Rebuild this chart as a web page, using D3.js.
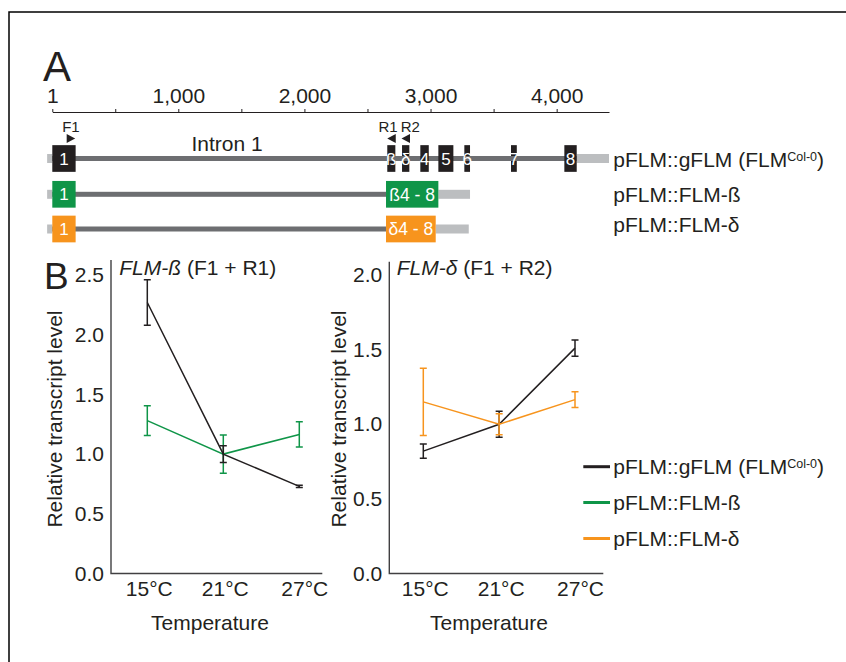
<!DOCTYPE html>
<html>
<head>
<meta charset="utf-8">
<script src="https://cdn.jsdelivr.net/npm/d3@7"></script>
<style>
  body { margin: 0; background: #fff; }
  svg text { font-family: 'Liberation Sans', Arial, sans-serif; fill: #231f20; }
</style>
</head>
<body>
<script>
// --- data ---
// genome scale (bp)
var scaleTicks = [1, 500, 1000, 1500, 2000, 2500, 3000, 3500, 4000];
var scaleEnd = 4415;

// gene model pFLM::gFLM
var exonNames = ["1", "ß", "δ", "4", "5", "6", "7", "8"];
var exonStarts = [1, 2657, 2774, 2919, 3062, 3268, 3638, 4061];
var exonEnds = [186, 2721, 2832, 2986, 3181, 3313, 3684, 4159];
var exonUnderLine = [false, true, true, false, false, true, true, false];
var utr5 = [-40, 1];
var utr3 = [4159, 4415];

// cDNA constructs
var constructNames = ["pFLM::FLM-ß", "pFLM::FLM-δ"];
var constructBlocks = ["ß4 - 8", "δ4 - 8"];
var constructCds = [[2647, 3062], [2647, 3041]];
var constructUtr3 = [[3062, 3313], [3041, 3303]];

// primers
var primerNames = ["F1", "R1", "R2"];
var primerPos = [115, 2724, 2837];
var primerDir = [1, -1, -1];

// qPCR
var temps = ["15°C", "21°C", "27°C"];
var betaTicks = [0, 0.5, 1.0, 1.5, 2.0, 2.5];
var deltaTicks = [0, 0.5, 1.0, 1.5, 2.0];
var betaGFLM = [2.27, 1.0, 0.73];
var betaGFLMErr = [0.19, 0.07, 0.01];
var betaFLMb = [1.28, 1.0, 1.165];
var betaFLMbErr = [0.125, 0.16, 0.105];
var deltaGFLM = [0.82, 1.0, 1.51];
var deltaGFLMErr = [0.048, 0.087, 0.055];
var deltaFLMd = [1.15, 1.0, 1.165];
var deltaFLMdErr = [0.225, 0.07, 0.053];

var legendNames = ["pFLM::gFLM (FLM", "pFLM::FLM-ß", "pFLM::FLM-δ"];

var BLACK = "#231f20", GREEN = "#0f9548", ORANGE = "#f7941d",
    INTRON = "#6d6e71", UTR = "#bcbec0";
var FS = "21px";

var svg = d3.select("body").append("svg")
    .attr("width", 846).attr("height", 662);

// frame
svg.append("path").attr("d", "M9,662V12H846")
    .attr("fill", "none").attr("stroke", "#000").attr("stroke-width", 1.5);

// panel letters
svg.append("text").attr("x", 43).attr("y", 81).style("font-size", "42px").text("A");
svg.append("text").attr("x", 44).attr("y", 289).style("font-size", "37px").text("B");

// ---------- panel A ----------
var gx = d3.scaleLinear().domain([1, scaleEnd]).range([52.3, 609]);

var ax = svg.append("g")
    .attr("transform", "translate(0,112)")
    .call(d3.axisTop(gx)
      .tickValues(scaleTicks)
      .tickFormat(function(d) { return (d === 1 || d % 1000 === 0) ? d3.format(",")(d) : ""; })
      .tickSize(3).tickSizeOuter(0).tickPadding(6));
ax.selectAll("path, line").attr("stroke", BLACK).attr("stroke-width", 1);
ax.selectAll("text").style("font-size", FS).attr("fill", BLACK);

var rowY = [158.5, 194.3, 229];
var boxH = 26.7, lineH = 5, utrH = 9;

function box(g, s, e, y, h, fill) {
  return g.append("rect")
    .attr("x", gx(s)).attr("y", y - h / 2)
    .attr("width", gx(e) - gx(s)).attr("height", h)
    .attr("fill", fill);
}
function boxLabel(g, s, e, y, label, size) {
  g.append("text")
    .attr("x", (gx(s) + gx(e)) / 2).attr("y", y)
    .attr("dy", "0.36em").attr("text-anchor", "middle")
    .style("font-size", size).style("fill", "#fff")
    .text(label);
}

// row 1: genomic
var r1 = svg.append("g");
box(r1, utr5[0], utr5[1], rowY[0], utrH, UTR);
box(r1, utr3[0], utr3[1], rowY[0], utrH, UTR);
exonNames.forEach(function(n, i) {
  if (exonUnderLine[i]) box(r1, exonStarts[i], exonEnds[i], rowY[0], boxH, BLACK);
});
box(r1, exonStarts[0], exonEnds[exonEnds.length - 1], rowY[0], lineH, INTRON);
exonNames.forEach(function(n, i) {
  if (!exonUnderLine[i]) box(r1, exonStarts[i], exonEnds[i], rowY[0], boxH, BLACK);
});
exonNames.forEach(function(n, i) {
  boxLabel(r1, exonStarts[i], exonEnds[i], rowY[0], n, "17px");
});
r1.append("text").attr("x", 227).attr("y", 151).attr("text-anchor", "middle")
  .style("font-size", FS).text("Intron 1");

// rows 2-3: constructs
var cColors = [GREEN, ORANGE];
constructNames.forEach(function(name, k) {
  var g = svg.append("g"), y = rowY[k + 1];
  box(g, utr5[0], utr5[1], y, utrH, UTR);
  box(g, constructUtr3[k][0], constructUtr3[k][1], y, utrH, UTR);
  box(g, exonStarts[0], constructCds[k][0], y, lineH, INTRON);
  box(g, exonStarts[0], exonEnds[0], y, boxH, cColors[k]);
  box(g, constructCds[k][0], constructCds[k][1], y, boxH, cColors[k]);
  boxLabel(g, exonStarts[0], exonEnds[0], y, "1", "17px");
  boxLabel(g, constructCds[k][0], constructCds[k][1], y, constructBlocks[k], "17.5px");
});

// construct names on the right
var nameBase = [166.7, 201.7, 231.7];
var t1 = svg.append("text").attr("x", 613.3).attr("y", nameBase[0]).style("font-size", FS);
t1.append("tspan").text(legendNames[0]);
t1.append("tspan").attr("dy", -6).style("font-size", "12.5px").text("Col-0");
t1.append("tspan").attr("dy", 6).text(")");
constructNames.forEach(function(n, k) {
  svg.append("text").attr("x", 613.3).attr("y", nameBase[k + 1])
    .style("font-size", FS).text(n);
});

// primers
var primerLabelShift = [0, -3.5, 4.5];
primerNames.forEach(function(n, i) {
  var x0 = gx(primerPos[i]), d = primerDir[i] * 8.5;
  svg.append("path")
    .attr("d", "M" + x0 + ",134L" + (x0 + d) + ",138.5L" + x0 + ",143Z")
    .attr("fill", BLACK);
  svg.append("text")
    .attr("x", x0 + d / 2 + primerLabelShift[i]).attr("y", 131.5)
    .attr("text-anchor", "middle").style("font-size", "15px").text(n);
});

// ---------- panel B ----------
var panels = [
  { ticks: betaTicks, yMax: 2.5, axisX: 111, axisRight: 322.3, topPx: 260,
    xr: [147.3, 299.3], italic: "FLM-ß", rest: " (F1 + R1)", titleX: 119.3,
    ylabX: 55, xlabX: 210,
    series: [
      { v: betaFLMb, e: betaFLMbErr, c: GREEN },
      { v: betaGFLM, e: betaGFLMErr, c: BLACK }
    ] },
  { ticks: deltaTicks, yMax: 2.0, axisX: 389.3, axisRight: 603.3, topPx: 261.7,
    xr: [423.3, 575], italic: "FLM-δ", rest: " (F1 + R2)", titleX: 396.7,
    ylabX: 339, xlabX: 489,
    series: [
      { v: deltaGFLM, e: deltaGFLMErr, c: BLACK },
      { v: deltaFLMd, e: deltaFLMdErr, c: ORANGE }
    ] }
];

var AXIS = "#414042";

panels.forEach(function(p) {
  var y = d3.scaleLinear().domain([0, p.yMax]).range([573.5, 275]);
  var x = d3.scalePoint().domain(temps).range(p.xr);
  var g = svg.append("g");

  // axis lines
  g.append("path")
    .attr("d", "M" + p.axisX + "," + p.topPx + "V" + y(0) + "H" + p.axisRight)
    .attr("fill", "none").attr("stroke", AXIS).attr("stroke-width", 1.4);

  var yAx = g.append("g").attr("transform", "translate(" + p.axisX + ",0)")
    .call(d3.axisLeft(y).tickValues(p.ticks).tickFormat(d3.format(".1f"))
      .tickSize(0).tickPadding(7));
  yAx.select(".domain").remove();
  yAx.selectAll("text").style("font-size", FS).attr("fill", BLACK);

  var xAx = g.append("g").attr("transform", "translate(0," + y(0) + ")")
    .call(d3.axisBottom(x).tickSize(0).tickPadding(8));
  xAx.select(".domain").remove();
  xAx.selectAll("text").style("font-size", FS).attr("fill", BLACK)
    .attr("dx", function(d, i) { return i === 2 ? 5 : 1.5; });

  // labels
  g.append("text")
    .attr("transform", "translate(" + (p.ylabX + 7) + ",419) rotate(-90)")
    .attr("text-anchor", "middle").style("font-size", FS)
    .text("Relative transcript level");
  g.append("text").attr("x", p.xlabX).attr("y", 630)
    .attr("text-anchor", "middle").style("font-size", FS).text("Temperature");
  var tt = g.append("text").attr("x", p.titleX).attr("y", 275).style("font-size", FS);
  tt.append("tspan").style("font-style", "italic").text(p.italic);
  tt.append("tspan").text(p.rest);

  // series
  var line = d3.line()
    .x(function(d, i) { return x(temps[i]); })
    .y(function(d) { return y(d); });

  p.series.forEach(function(s) {
    var sg = g.append("g");
    sg.append("path").attr("d", line(s.v))
      .attr("fill", "none").attr("stroke", s.c).attr("stroke-width", 1.5);
    s.v.forEach(function(v, i) {
      var cx = x(temps[i]), lo = y(v - s.e[i]), hi = y(v + s.e[i]);
      sg.append("path")
        .attr("d", "M" + cx + "," + lo + "V" + hi +
                   "M" + (cx - 3.5) + "," + lo + "H" + (cx + 3.5) +
                   "M" + (cx - 3.5) + "," + hi + "H" + (cx + 3.5))
        .attr("fill", "none").attr("stroke", s.c).attr("stroke-width", 1.5);
    });
  });
});

// legend
var legColors = [BLACK, GREEN, ORANGE];
var legY = [466.7, 502.5, 538.5];
legendNames.forEach(function(n, i) {
  svg.append("line").attr("x1", 583.3).attr("x2", 610)
    .attr("y1", legY[i]).attr("y2", legY[i])
    .attr("stroke", legColors[i]).attr("stroke-width", 3);
  var t = svg.append("text").attr("x", 613.3).attr("y", legY[i] + 7)
    .style("font-size", FS);
  t.append("tspan").text(n);
  if (i === 0) {
    t.append("tspan").attr("dy", -6).style("font-size", "12.5px").text("Col-0");
    t.append("tspan").attr("dy", 6).text(")");
  }
});
</script>
</body>
</html>
